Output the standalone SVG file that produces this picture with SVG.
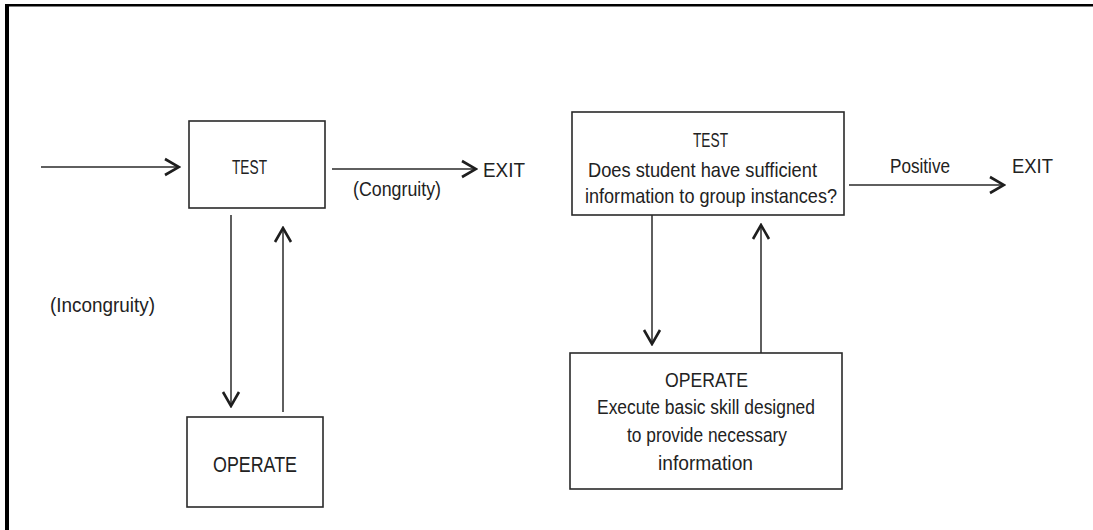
<svg xmlns="http://www.w3.org/2000/svg" width="1093" height="530" viewBox="0 0 1093 530">
  <style>
    .box { fill: #ffffff; stroke: #2a2a2a; stroke-width: 1.6; }
    .conn { fill: none; stroke: #2a2a2a; stroke-width: 1.5; }
    .t { font-family: "Liberation Sans", Arial, sans-serif; fill: #222222; }
    .frame { fill: #000000; }
  </style>
  <defs>
    <marker id="chev" viewBox="-16 -10 18 20" refX="0" refY="0" markerWidth="18" markerHeight="20" markerUnits="userSpaceOnUse" orient="auto">
      <path d="M-14,-8 L0,0 L-14,8" fill="none" stroke="#1e1e1e" stroke-width="2.6" stroke-linejoin="miter"/>
    </marker>
  </defs>
  <rect x="0" y="0" width="1093" height="530" fill="#ffffff"/>
  <rect class="frame" x="5" y="4" width="1088" height="2.5"/>
  <rect class="frame" x="5" y="4" width="4" height="526"/>

  <g id="connectors">
    <line class="conn" x1="41" y1="167" x2="179" y2="167" marker-end="url(#chev)"/>
    <line class="conn" x1="332" y1="169" x2="476" y2="169" marker-end="url(#chev)"/>
    <line class="conn" x1="231" y1="215" x2="231" y2="406" marker-end="url(#chev)"/>
    <line class="conn" x1="283" y1="412" x2="283" y2="228" marker-end="url(#chev)"/>
    <line class="conn" x1="652" y1="215" x2="652" y2="344" marker-end="url(#chev)"/>
    <line class="conn" x1="761" y1="353" x2="761" y2="225" marker-end="url(#chev)"/>
    <line class="conn" x1="849" y1="185" x2="1004" y2="185" marker-end="url(#chev)"/>
    <text class="t" x="353" y="196" font-size="20" textLength="88" lengthAdjust="spacingAndGlyphs">(Congruity)</text>
    <text class="t" x="50" y="312" font-size="20" textLength="105" lengthAdjust="spacingAndGlyphs">(Incongruity)</text>
    <text class="t" x="890" y="173" font-size="21" textLength="60" lengthAdjust="spacingAndGlyphs">Positive</text>
  </g>

  <g id="test1">
    <rect class="box" x="189" y="121" width="136" height="87"/>
    <text class="t" x="232" y="174" font-size="20" textLength="35" lengthAdjust="spacingAndGlyphs">TEST</text>
  </g>

  <g id="exit1">
    <text class="t" x="483" y="177" font-size="21" textLength="42" lengthAdjust="spacingAndGlyphs">EXIT</text>
  </g>

  <g id="operate1">
    <rect class="box" x="187" y="417" width="136" height="90"/>
    <text class="t" x="213" y="472" font-size="21.5" textLength="84" lengthAdjust="spacingAndGlyphs">OPERATE</text>
  </g>

  <g id="test2">
    <rect class="box" x="572" y="112" width="272" height="103"/>
    <text class="t" x="693" y="147" font-size="21" textLength="35" lengthAdjust="spacingAndGlyphs">TEST</text>
    <text class="t" x="588" y="177" font-size="21" textLength="229" lengthAdjust="spacingAndGlyphs">Does student have sufficient</text>
    <text class="t" x="585" y="203" font-size="21" textLength="252" lengthAdjust="spacingAndGlyphs">information to group instances?</text>
  </g>

  <g id="exit2">
    <text class="t" x="1012" y="173" font-size="20" textLength="41" lengthAdjust="spacingAndGlyphs">EXIT</text>
  </g>

  <g id="operate2">
    <rect class="box" x="570" y="353" width="272" height="136"/>
    <text class="t" x="665" y="387" font-size="20.5" textLength="83" lengthAdjust="spacingAndGlyphs">OPERATE</text>
    <text class="t" x="597" y="414" font-size="20.5" textLength="218" lengthAdjust="spacingAndGlyphs">Execute basic skill designed</text>
    <text class="t" x="627" y="442" font-size="20.5" textLength="160" lengthAdjust="spacingAndGlyphs">to provide necessary</text>
    <text class="t" x="658" y="470" font-size="20.5" textLength="95" lengthAdjust="spacingAndGlyphs">information</text>
  </g>
</svg>
